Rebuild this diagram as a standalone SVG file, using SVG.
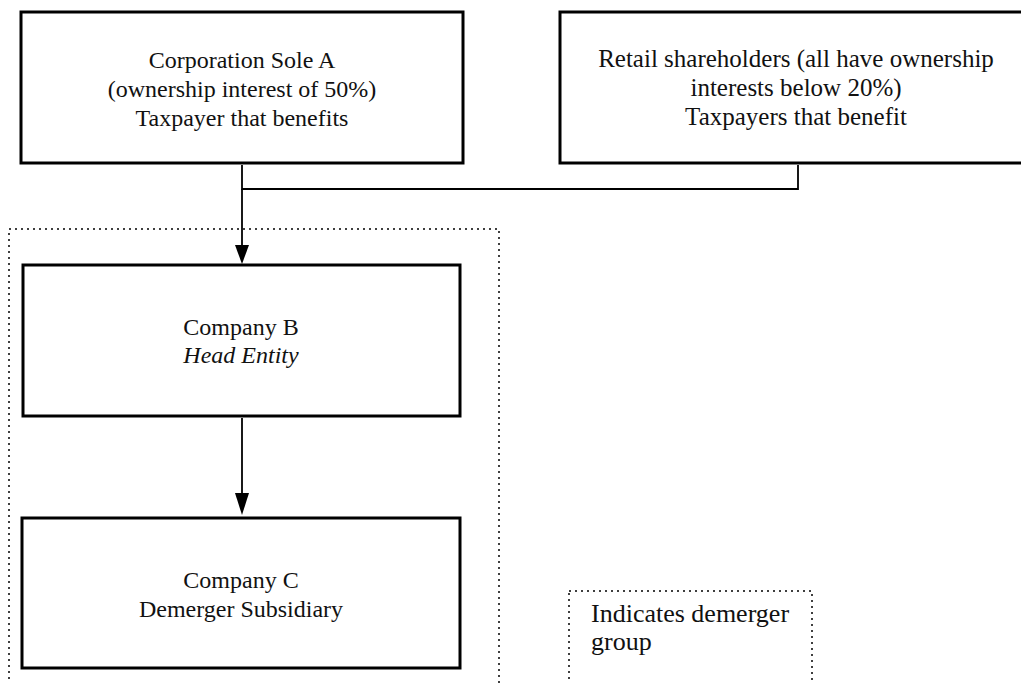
<svg xmlns="http://www.w3.org/2000/svg" width="1021" height="683" viewBox="0 0 1021 683">
<style>
.box{fill:#fff;stroke:#000;stroke-width:3}
.grp{fill:none;stroke:#000;stroke-width:1.5;stroke-dasharray:2 4}
.ln{fill:none;stroke:#000;stroke-width:1.8}
text{font-family:"Liberation Serif","Times New Roman",serif;font-size:24px;fill:#111;text-anchor:middle}
.big{font-size:25px}
.leg{font-size:26px;text-anchor:start}
</style>
<rect width="1021" height="683" fill="#fff"/>
<g id="demerger-group"><rect class="grp" x="9" y="229" width="490" height="470"/></g>
<g id="legend"><rect class="grp" x="569" y="591" width="243" height="110"/>
<text class="leg" x="591" y="622">Indicates demerger</text>
<text class="leg" x="591" y="650">group</text></g>
<g id="connectors">
<path class="ln" d="M242,165 V189 H798 V165"/>
<path d="M242,189 V246" class="ln"/>
<path d="M235,245 L249,245 L242,264 Z" fill="#000"/>
<path d="M242,418 V494" class="ln"/>
<path d="M235,493 L249,493 L242,515 Z" fill="#000"/>
</g>
<g id="corporation-sole-a"><rect class="box" x="21" y="12" width="442" height="151"/>
<text x="242" y="68">Corporation Sole A</text>
<text x="242" y="97">(ownership interest of 50%)</text>
<text x="242" y="126">Taxpayer that benefits</text></g>
<g id="retail-shareholders"><rect class="box" x="560" y="12" width="470" height="151"/>
<text class="big" x="796" y="67">Retail shareholders (all have ownership</text>
<text class="big" x="796" y="96">interests below 20%)</text>
<text class="big" x="796" y="125">Taxpayers that benefit</text></g>
<g id="company-b"><rect class="box" x="23" y="265" width="437" height="151"/>
<text x="241" y="335">Company B</text>
<text x="241" y="363" font-style="italic">Head Entity</text></g>
<g id="company-c"><rect class="box" x="22" y="518" width="438" height="150"/>
<text x="241" y="588">Company C</text>
<text x="241" y="617">Demerger Subsidiary</text></g>
</svg>
